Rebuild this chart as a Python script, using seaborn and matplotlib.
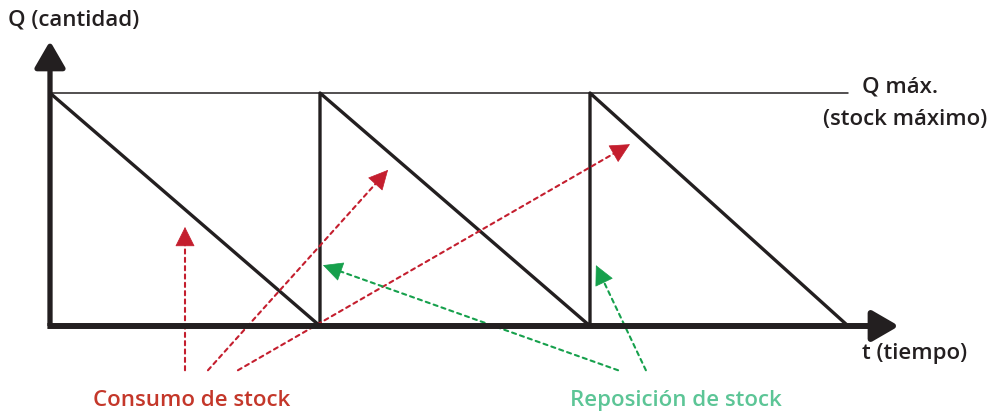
import matplotlib
matplotlib.use("Agg")
import matplotlib.pyplot as plt
import seaborn as sns
import pandas as pd
import numpy as np

sns.set_theme(style="white")
plt.rcParams['font.family'] = ['Open Sans', 'DejaVu Sans']

# Sawtooth inventory profile (t in cycles, Q relative to Q max)
t_values = [0.0, 1.0, 1.0, 2.0, 2.0, 2.956]
q_values = [1.0, 0.0, 1.0, 0.0, 1.0, 0.0]
q_max = 1.0
q_max_line_end = 2.956

# Annotation arrows: (start_t, start_q, end_t, end_q)
consumo_arrows = [
    (0.5, -0.19, 0.5, 0.425),
    (0.585, -0.19, 1.252, 0.67),
    (0.696, -0.19, 2.148, 0.78),
]
reposicion_arrows = [
    (2.104, -0.19, 1.011, 0.261),
    (2.207, -0.19, 2.022, 0.261),
]

labels = {
    "y": "Q (cantidad)",
    "x": "t (tiempo)",
    "qmax1": "Q máx.",
    "qmax2": "(stock máximo)",
    "consumo": "Consumo de stock",
    "reposicion": "Reposición de stock",
}

dark = "#231f20"
red = "#c41e2e"
red_text = "#c4372a"
green = "#16a04c"
green_text = "#5cc596"

fig = plt.figure(figsize=(9.98, 4.14), dpi=100)
ax = fig.add_axes([0, 0, 1, 1])
px_x, px_y = 270.0, 233.0
x0px, y0px = 50.0, 327.0
ax.set_xlim(-x0px / px_x, (998 - x0px) / px_x)
ax.set_ylim((y0px - 414) / px_y, y0px / px_y)
ax.axis("off")


def P(px, py):
    """pixel position -> data position (for text placement only)"""
    return (px - x0px) / px_x, (y0px - py) / px_y


df = pd.DataFrame({"t": t_values, "Q": q_values})
sns.lineplot(data=df, x="t", y="Q", sort=False, estimator=None,
             color=dark, lw=2.4, ax=ax, zorder=3)

# Q max line
ax.plot([0, q_max_line_end], [q_max, q_max], color=dark, lw=1.1, zorder=2)

# Axes arrows
ax.annotate("", xy=(0, 285 / px_y), xytext=(0, 0),
            arrowprops=dict(arrowstyle="-|>,head_width=0.55,head_length=0.95",
                            lw=3.8, color=dark, shrinkA=0, shrinkB=0,
                            mutation_scale=17, capstyle="butt"), zorder=5)
ax.annotate("", xy=(849 / px_x, 0), xytext=(-2.6 / px_x, 0),
            arrowprops=dict(arrowstyle="-|>,head_width=0.55,head_length=0.95",
                            lw=4.3, color=dark, shrinkA=0, shrinkB=0,
                            mutation_scale=17, capstyle="butt"), zorder=5)


def dotted_arrow(x0, y0, x1, y1, color):
    # direction in pixel space
    dx = (x1 - x0) * px_x
    dy = (y1 - y0) * px_y
    L = np.hypot(dx, dy)
    ux, uy = dx / L, dy / L
    back = 11.0
    hx = x1 - ux * back / px_x
    hy = y1 - uy * back / px_y
    ax.annotate("", xy=(hx, hy), xytext=(x0, y0),
                arrowprops=dict(arrowstyle="-", lw=1.5, ls=(0, (2, 2)),
                                color=color, shrinkA=0, shrinkB=0), zorder=4)
    sx = x1 - ux * 16 / px_x
    sy = y1 - uy * 16 / px_y
    ax.annotate("", xy=(x1, y1), xytext=(sx, sy),
                arrowprops=dict(arrowstyle="-|>,head_width=0.5,head_length=1.0",
                                lw=0.5, color=color, shrinkA=0, shrinkB=0,
                                mutation_scale=13), zorder=4)


for a in consumo_arrows:
    dotted_arrow(*a, red)
for a in reposicion_arrows:
    dotted_arrow(*a, green)

fs = 16
kw = dict(fontsize=fs, fontweight="semibold", va="center")
ax.text(*P(8, 20), labels["y"], color=dark, ha="left", **kw)
ax.text(*P(915, 354), labels["x"], color=dark, ha="center", **kw)
ax.text(*P(900, 87), labels["qmax1"], color=dark, ha="center", **kw)
ax.text(*P(905, 120), labels["qmax2"], color=dark, ha="center", **kw)
ax.text(*P(192, 401), labels["consumo"], color=red_text, ha="center", **kw)
ax.text(*P(676, 401), labels["reposicion"], color=green_text, ha="center", **kw)

fig.savefig("out.png", dpi=100)
